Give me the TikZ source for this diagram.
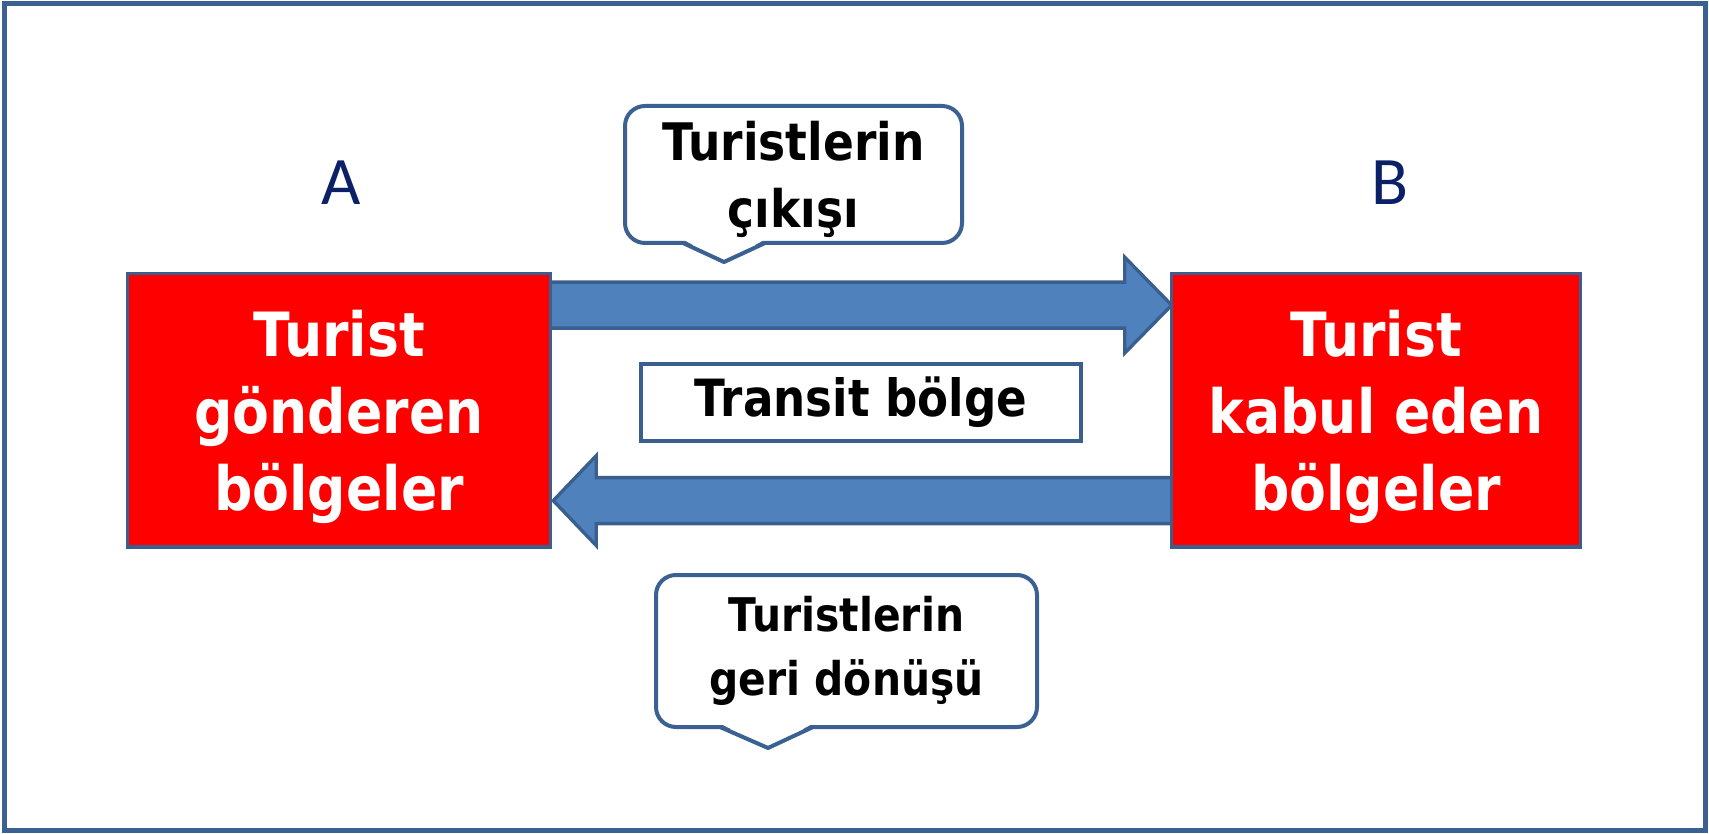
\documentclass[tikz,border=0pt]{standalone}
\usepackage{fontspec}
\newfontfamily\comicfont[FakeStretch=0.88]{DejaVu Sans}
\newfontfamily\califont{Carlito}
\usetikzlibrary{calc,backgrounds}
\definecolor{frameblue}{HTML}{3B6192}
\definecolor{arrowblue}{HTML}{4F81BD}
\definecolor{arrowline}{HTML}{3A5F8E}
\definecolor{navy}{HTML}{0B2066}
\begin{document}
\begin{tikzpicture}[x=0.75pt,y=-0.75pt,
  region/.style={draw=arrowline, line width=2.5pt, fill=red, text=white, align=center,
    outer sep=0pt, inner sep=0pt, minimum height=205pt, text depth=0pt,
    font=\comicfont\bfseries\fontsize{45.75}{57.5}\selectfont},
  bubble/.style={draw=frameblue, line width=3pt, fill=white, rounded corners=15pt,
    align=center, outer sep=0pt, inner sep=0pt},
  pointer/.style={draw=frameblue, line width=3pt, line join=round},
  bigarrow/.style={draw=arrowline, line width=2.5pt, fill=arrowblue, line join=miter},
  letter/.style={text=navy, font=\califont\fontsize{51}{60}\selectfont},
  transit/.style={draw=arrowline, line width=2.5pt, fill=white, outer sep=0pt, inner sep=0pt,
    minimum width=330pt, minimum height=57.75pt,
    font=\comicfont\bfseries\fontsize{38.5}{46}\selectfont}]
\useasboundingbox (0,0) rectangle (1709,834);
\draw[frameblue, line width=3.75pt] (4,4) rectangle (1705,830);

% regions
\node[region, minimum width=316.9pt] (L) at (339,410.3) {Turist\\gönderen\\bölgeler};
\node[region, minimum width=306.5pt] (R) at (1376,410.3) {Turist\\kabul eden\\bölgeler};

% labels
\node[letter] (A) at (341,183) {A};
\node[letter] (B) at (1390,183) {B};

% transit
\node[transit] (T) at (861,402.5) {Transit bölge};

% arrows
\coordinate (rt) at ($(R.north west)+(0,31.5)$);
\coordinate (rs) at ($(L.north east)+(-15,31.5)$);
\coordinate (lt) at ($(L.north east)+(3,227)$);
\coordinate (ls) at ($(R.north west)+(15,227)$);
\begin{scope}[on background layer]
\draw[bigarrow] ($(rs)+(0,-23)$) -- ($(rt)+(-47,-23)$) -- ($(rt)+(-47,-48)$) -- (rt)
  -- ($(rt)+(-47,48)$) -- ($(rt)+(-47,23)$) -- ($(rs)+(0,23)$) -- cycle;
\draw[bigarrow] ($(ls)+(0,-23)$) -- ($(lt)+(43,-23)$) -- ($(lt)+(43,-45)$) -- (lt)
  -- ($(lt)+(43,45)$) -- ($(lt)+(43,23)$) -- ($(ls)+(0,23)$) -- cycle;
\end{scope}

% bubbles
\node[bubble, minimum width=252.75pt, minimum height=102.75pt, text depth=0pt,
  font=\comicfont\bfseries\fontsize{38.8}{50}\selectfont] (b1) at (793.5,174.5)
  {Turistlerin\\çıkışı};
\fill[white] ($(b1.south)+(-110.5,-3.5)$) -- ($(b1.south)+(-28.5,-3.5)$) -- ($(b1.south)+(-69.5,19)$) -- cycle;
\draw[pointer] ($(b1.south)+(-110.5,0)$) -- ($(b1.south)+(-69.5,19)$) -- ($(b1.south)+(-28.5,0)$);

\node[bubble, minimum width=285.75pt, minimum height=114pt,
  font=\comicfont\bfseries\fontsize{34.8}{48}\selectfont] (b2) at (846.5,651)
  {Turistlerin\\geri dönüşü};
\fill[white] ($(b2.south)+(-126.5,-3.5)$) -- ($(b2.south)+(-33.5,-3.5)$) -- ($(b2.south)+(-78.5,21)$) -- cycle;
\draw[pointer] ($(b2.south)+(-126.5,0)$) -- ($(b2.south)+(-78.5,21)$) -- ($(b2.south)+(-33.5,0)$);
\end{tikzpicture}
\end{document}
